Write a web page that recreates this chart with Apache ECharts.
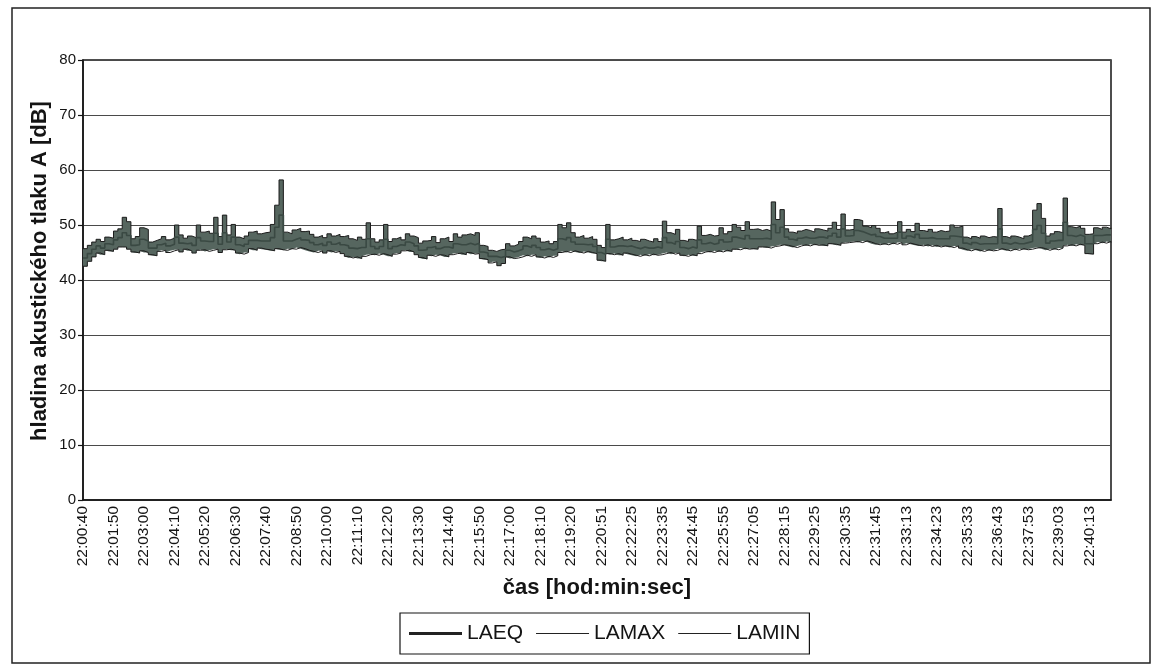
<!DOCTYPE html>
<html>
<head>
<meta charset="utf-8">
<script src="https://cdn.jsdelivr.net/npm/echarts@6/dist/echarts.min.js"></script>
<style>
html,body{margin:0;padding:0;background:#fff;}
#c{width:1159px;height:672px;}
</style>
</head>
<body>
<div id="c"></div>
<script>
// Tick labels of the time axis (one label every 7 samples of 10 s)
const tickLabels = ['22:00:40','22:01:50','22:03:00','22:04:10','22:05:20','22:06:30','22:07:40','22:08:50',
  '22:10:00','22:11:10','22:12:20','22:13:30','22:14:40','22:15:50','22:17:00','22:18:10','22:19:20',
  '22:20:51','22:22:25','22:23:35','22:24:45','22:25:55','22:27:05','22:28:15','22:29:25','22:30:35',
  '22:31:45','22:33:13','22:34:23','22:35:33','22:36:43','22:37:53','22:39:03','22:40:13'];
const samplesPerLabel = 7;
const sampleSeconds = 10;

const seriesNames = ['LAEQ', 'LAMAX', 'LAMIN'];

const laeq = [
  44.0,44.8,45.6,46.2,45.8,46.6,46.4,47.3,47.7,48.6,48.1,
  46.3,46.4,47.4,47.1,45.8,45.8,46.4,46.7,46.2,46.5,47.8,
  46.7,46.6,46.7,46.3,47.7,47.1,47.0,47.0,48.5,46.5,
  48.6,46.9,47.8,46.4,46.1,46.5,47.2,47.2,47.1,47.1,47.1,47.7,
  49.6,51.8,47.1,47.1,47.4,47.7,47.3,47.2,46.8,46.4,46.7,
  46.3,46.9,46.5,46.8,46.4,46.2,45.8,45.7,45.9,45.9,47.5,
  46.1,45.7,46.1,47.4,45.7,46.1,46.4,46.3,46.9,46.6,46.2,
  45.4,45.5,45.9,46.1,45.7,46.0,46.0,45.8,46.6,46.4,46.4,
  46.7,46.4,46.7,45.1,44.9,44.3,44.3,44.1,44.3,45.4,45.1,
  45.3,45.6,46.2,45.9,46.3,45.9,45.5,45.7,45.4,45.7,
  47.5,47.3,47.7,46.9,46.5,46.5,46.4,46.5,46.1,45.0,44.7,47.4,
  46.0,46.2,46.2,46.1,46.2,45.9,45.7,46.0,45.8,45.8,46.0,
  45.8,47.7,46.8,46.5,47.0,45.9,45.7,46.0,45.8,47.3,46.6,
  46.8,46.5,46.7,47.3,46.9,47.0,47.8,47.6,47.4,48.1,47.5,
  47.5,47.5,47.6,47.4,50.1,48.6,49.6,47.8,47.4,47.2,47.6,
  47.8,47.6,47.6,47.8,47.8,47.6,48.0,48.5,47.8,49.3,48.0,
  48.1,49.0,48.8,48.5,48.2,48.3,47.9,47.6,47.6,47.6,47.6,48.7,
  47.6,48.0,47.7,48.3,47.6,47.6,47.7,47.5,47.5,47.5,
  47.5,48.0,47.9,47.8,46.7,46.4,46.8,46.5,46.6,46.6,46.6,
  46.6,49.3,46.7,46.5,46.8,46.6,46.6,46.8,47.0,49.2,49.9,48.5,
  46.7,47.1,47.2,47.2,50.5,48.1,47.9,48.2,47.9,46.6,
  46.6,48.1,48.1,48.2,48.2,48.2
];

const lamax = [
  45.7,46.3,46.9,47.4,47.0,47.8,47.6,48.9,49.3,51.4,50.6,
  47.5,47.9,49.5,49.2,46.9,47.2,47.5,47.9,47.3,47.6,50.0,
  48.2,47.6,48.0,47.7,50.0,48.7,48.9,48.5,51.4,47.9,
  51.8,48.2,50.1,47.8,47.5,48.0,48.7,48.9,48.4,48.6,48.7,50.1,
  53.6,58.2,48.7,48.4,49.1,49.4,48.8,48.9,48.3,47.8,48.1,
  47.7,48.4,48.0,48.3,47.9,48.1,47.5,47.2,47.8,47.4,50.4,
  47.5,46.9,47.3,50.1,47.0,47.5,47.8,47.3,48.4,48.0,47.7,
  46.7,47.1,47.2,47.9,46.8,47.5,47.8,47.0,48.4,47.8,48.2,
  48.4,48.1,48.6,46.3,46.1,45.4,45.2,45.5,45.6,46.6,46.2,
  46.5,47.0,47.8,47.5,48.0,47.6,46.9,47.1,46.6,47.0,
  50.1,49.5,50.4,48.6,47.8,48.1,47.6,47.9,47.4,46.3,45.9,50.1,
  47.3,47.5,47.8,47.3,47.6,47.2,47.0,47.4,47.1,46.9,47.5,
  47.0,50.7,48.6,48.3,49.2,47.2,47.0,47.4,47.2,49.8,48.1,
  48.3,48.0,48.1,49.5,48.4,48.8,50.1,49.6,49.0,50.6,49.2,
  49.3,49.0,49.2,48.9,54.2,51.0,52.8,49.3,48.7,48.5,48.9,
  49.2,49.0,48.7,49.3,49.1,48.9,49.4,50.5,49.2,52.0,49.1,
  49.2,51.0,50.8,49.8,49.5,49.9,49.4,48.6,48.8,48.4,48.7,50.6,
  48.7,49.2,48.8,50.3,49.0,48.8,49.2,48.7,49.0,48.8,
  48.9,50.0,49.6,49.8,47.8,47.5,47.9,47.6,48.0,47.7,47.9,
  47.8,53.0,47.9,47.6,48.0,47.8,47.5,48.0,48.3,52.7,53.9,51.2,
  48.0,48.4,48.8,48.6,54.9,49.7,49.5,49.8,49.4,48.3,
  48.4,49.5,49.2,49.6,49.3,49.5
];

const lamin = [
  42.5,43.4,44.2,44.9,44.6,45.4,45.2,45.6,46.0,46.0,45.6,
  45.1,44.9,45.3,45.0,44.6,44.4,45.2,45.4,45.0,45.3,45.5,
  45.1,45.6,45.3,44.9,45.4,45.5,45.2,45.4,45.6,45.0,
  45.5,45.6,45.4,44.9,44.7,45.0,45.7,45.4,45.8,45.6,45.5,45.3,
  45.7,45.5,45.4,45.7,45.6,45.9,45.7,45.4,45.2,45.0,45.3,
  44.9,45.3,45.0,45.2,44.8,44.3,44.0,44.2,43.9,44.3,44.6,
  44.7,44.5,44.8,44.6,44.3,44.7,44.9,45.3,45.4,45.1,44.6,
  44.1,43.8,44.5,44.3,44.6,44.5,44.2,44.6,44.8,44.9,44.6,
  45.0,44.7,44.8,43.9,43.7,43.1,43.3,42.6,43.0,44.2,43.9,
  44.0,44.2,44.5,44.3,44.6,44.2,44.0,44.3,44.1,44.4,
  45.0,45.2,45.0,45.3,45.1,44.9,45.2,45.0,44.8,43.6,43.4,44.8,
  44.6,44.8,44.5,44.9,44.7,44.5,44.3,44.6,44.4,44.7,44.5,
  44.6,44.8,45.0,44.7,44.9,44.5,44.3,44.6,44.4,44.8,45.1,
  45.2,45.0,45.3,45.1,45.4,45.2,45.6,45.5,45.8,45.6,45.7,
  45.6,46.0,46.0,45.8,46.1,46.2,46.4,46.3,46.1,45.9,46.2,
  46.4,46.2,46.5,46.3,46.4,46.2,46.6,46.5,46.3,46.7,46.8,
  46.9,47.0,46.8,47.1,46.9,46.6,46.4,46.6,46.4,46.7,46.5,46.8,
  46.4,46.7,46.5,46.3,46.2,46.4,46.1,46.3,46.0,46.2,
  46.1,45.9,46.2,45.8,45.5,45.3,45.6,45.4,45.2,45.5,45.3,
  45.4,45.7,45.5,45.3,45.6,45.4,45.7,45.5,45.6,45.8,45.9,45.7,
  45.4,45.7,45.5,45.8,46.2,46.4,46.2,46.5,46.3,44.8,
  44.7,46.6,46.9,46.7,47.0,46.8
];

// category names: sample times built from the tick labels
function addSeconds(t, s) {
  const p = t.split(':').map(Number);
  const tot = p[0] * 3600 + p[1] * 60 + p[2] + s;
  const hh = Math.floor(tot / 3600) % 24, mm = Math.floor(tot / 60) % 60, ss = tot % 60;
  return [hh, mm, ss].map(v => String(v).padStart(2, '0')).join(':');
}
const categories = [];
tickLabels.forEach(t => {
  for (let k = 0; k < samplesPerLabel; k++) categories.push(addSeconds(t, k * sampleSeconds));
});
categories.length = laeq.length;

// band between LAMIN and LAMAX (stacked on LAMIN)
const bandSpan = lamax.map((v, i) => +(v - lamin[i]).toFixed(2));

const FONT = "'Liberation Sans', Arial, sans-serif";
const INK = '#141414';
const thickIcon = 'path://M0,0H100V6H0Z';
const thinIcon = 'path://M0,0H100V2H0Z';

const chart = echarts.init(document.getElementById('c'), null, { renderer: 'canvas' });
chart.setOption({
  animation: false,
  backgroundColor: '#ffffff',
  grid: {
    left: 83, right: 48, top: 60, bottom: 172,
    show: true, borderColor: INK, borderWidth: 1.5, backgroundColor: 'transparent'
  },
  legend: {
    data: [
      { name: seriesNames[0], icon: thickIcon, itemStyle: { color: '#222' } },
      { name: seriesNames[1], icon: thinIcon, itemStyle: { color: '#222' } },
      { name: seriesNames[2], icon: thinIcon, itemStyle: { color: '#222' } }
    ],
    symbolKeepAspect: true,
    left: 400, top: 613,
    padding: [10, 9],
    itemGap: 13,
    itemWidth: 53, itemHeight: 12,
    borderColor: INK, borderWidth: 1.2,
    backgroundColor: '#fff',
    textStyle: { fontFamily: FONT, fontSize: 21, color: INK }
  },
  xAxis: {
    type: 'category',
    data: categories,
    boundaryGap: false,
    axisLine: { show: true, lineStyle: { color: INK, width: 1.5 } },
    axisTick: { show: false },
    axisLabel: {
      interval: samplesPerLabel - 1,
      rotate: 90,
      margin: 6,
      fontFamily: FONT, fontSize: 15.5, color: INK
    },
    splitLine: { show: false }
  },
  yAxis: {
    type: 'value',
    min: 0, max: 80, interval: 10,
    axisLine: { show: true, lineStyle: { color: INK, width: 1.5 } },
    axisTick: { show: true, length: 5, lineStyle: { color: INK, width: 1.2 } },
    axisLabel: { margin: 7, fontFamily: FONT, fontSize: 15, color: INK },
    splitLine: { show: true, lineStyle: { color: '#4a4a4a', width: 1.2 } }
  },
  graphic: [
    { type: 'rect', silent: true, z: -10,
      shape: { x: 12, y: 8, width: 1138, height: 655 },
      style: { fill: 'none', stroke: '#222', lineWidth: 1.5 } },
    { type: 'text', silent: true,
      x: 40, y: 271, rotation: Math.PI / 2,
      style: { text: 'hladina akustického tlaku A [dB]', font: 'bold 22px ' + FONT,
        fill: INK, textAlign: 'center', textVerticalAlign: 'middle' } },
    { type: 'text', silent: true,
      x: 597, y: 588,
      style: { text: 'čas [hod:min:sec]', font: 'bold 22px ' + FONT,
        fill: INK, textAlign: 'center', textVerticalAlign: 'middle' } }
  ],
  series: [
    { name: seriesNames[2], type: 'line', data: lamin, stack: 'band', step: 'end',
      symbol: 'none', z: 3, itemStyle: { color: '#222' },
      lineStyle: { color: '#1c1c1c', width: 1 } },
    { name: 'band', type: 'line', data: bandSpan, stack: 'band', step: 'end',
      symbol: 'none', z: 2, silent: true,
      lineStyle: { width: 0, opacity: 0 },
      areaStyle: { color: '#56665f', opacity: 1 } },
    { name: seriesNames[1], type: 'line', data: lamax, step: 'end',
      symbol: 'none', z: 3, itemStyle: { color: '#222' },
      lineStyle: { color: '#1c1c1c', width: 1 } },
    { name: seriesNames[0], type: 'line', data: laeq, step: 'end',
      symbol: 'none', z: 4, itemStyle: { color: '#222' },
      lineStyle: { color: '#3a4943', width: 1.6 } }
  ]
});
</script>
</body>
</html>
